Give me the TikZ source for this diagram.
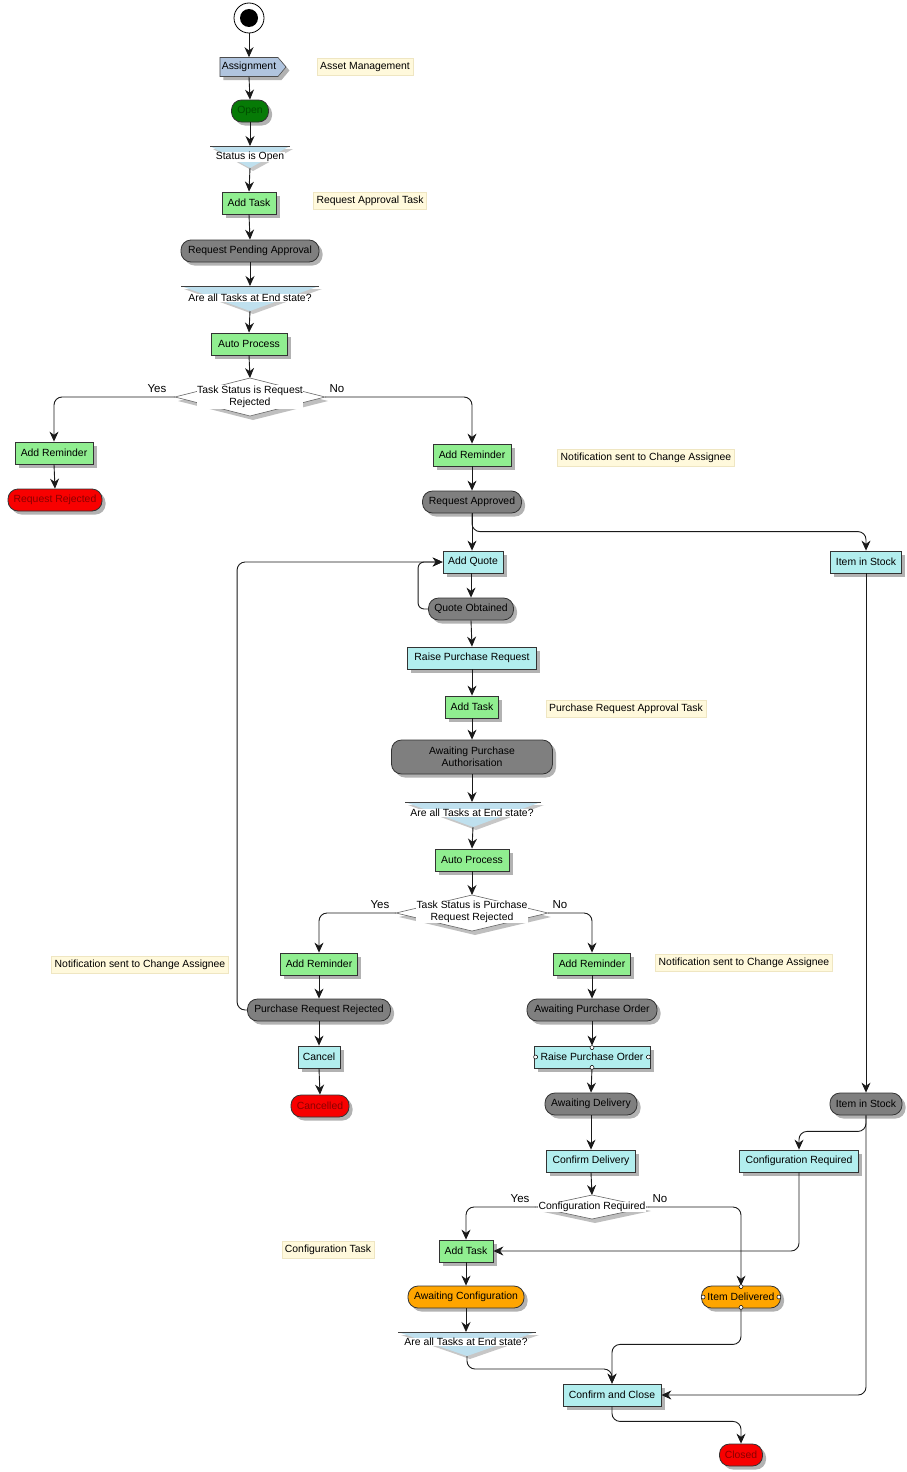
\documentclass[tikz,border=0pt]{standalone}
\usepackage{fontspec}
\setmainfont{Liberation Sans}
\usetikzlibrary{shapes.symbols,shadows,arrows.meta,calc}
\definecolor{gfill}{HTML}{90EE90}
\definecolor{cfill}{HTML}{B2EEEE}
\definecolor{pfill}{HTML}{7F7F7F}
\definecolor{rfill}{HTML}{F80000}
\definecolor{ofill}{HTML}{FFA500}
\definecolor{dgfill}{HTML}{067A06}
\definecolor{nfill}{HTML}{FFF9DC}
\definecolor{nline}{HTML}{EFE6C2}
\definecolor{ffill}{HTML}{BFE0EE}
\definecolor{afill}{HTML}{B0C4DE}
\definecolor{edgec}{HTML}{1A1A1A}
\definecolor{rtext}{HTML}{8A0000}
\tikzset{
  every node/.style={font=\fontsize{10.4}{12}\selectfont},
  base/.style={draw=black!80, line width=0.8pt, minimum height=22pt, inner sep=1pt,
    drop shadow={shadow xshift=3.5pt,shadow yshift=-3.5pt,opacity=0.3,fill=black}},
  gbox/.style={base, rectangle, fill=gfill},
  cbox/.style={base, rectangle, fill=cfill},
  pill/.style={base, rounded corners=10pt, fill=pfill},
  rpill/.style={pill, fill=rfill, text=rtext},
  opill/.style={pill, fill=ofill},
  note/.style={fill=nfill, draw=nline, line width=0.5pt, minimum height=17pt, inner xsep=3pt, inner ysep=1pt},
  conn/.style={draw=edgec, line width=0.9pt, -{Stealth[length=10pt,width=9pt]}, rounded corners=8pt},
  lbl/.style={font=\fontsize{11.5}{12}\selectfont, inner sep=0pt},
  holder/.style={inner sep=0pt, outer sep=0pt},
  ftext/.style={fill=white, inner sep=0.5pt},
  dtext/.style={fill=white, inner sep=0.5pt, align=center},
  port/.style={fill=white, draw=black, line width=0.5pt}
}
\newcommand{\funnel}[1]{%
  \fill[black,opacity=0.22] ([shift={(3,-3)}]#1.north west) -- ([shift={(3,-3)}]#1.north east) -- ([shift={(3,-3)}]#1.south) -- cycle;
  \fill[ffill] (#1.north west) -- (#1.north east) -- (#1.south) -- cycle;
  \draw[line width=0.8pt, black!75] (#1.north west) -- (#1.north east);}
\newcommand{\decision}[1]{%
  \fill[black,opacity=0.25] ([shift={(3,-4)}]#1.north) -- ([shift={(3,-4)}]#1.east) -- ([shift={(3,-4)}]#1.south) -- ([shift={(3,-4)}]#1.west) -- cycle;
  \filldraw[fill=white, draw=black!60, line width=0.6pt] (#1.north) -- (#1.east) -- (#1.south) -- (#1.west) -- cycle;}
\begin{document}
\begin{tikzpicture}[x=1pt,y=1pt]
\useasboundingbox[fill=white] (0,0) rectangle (906,-1472);

% start
\node[circle, draw=black, line width=0.8pt, minimum size=30pt, inner sep=0pt] (start) at (249,-18) {};
\fill (start.center) circle (9);

\node[signal, signal to=east, signal pointer angle=100, fill=afill, draw=black!70, line width=0.6pt,
  minimum width=66pt, minimum height=19pt, inner sep=0pt,
  drop shadow={shadow xshift=3.5pt,shadow yshift=-3.5pt,opacity=0.3,fill=black}] (assign) at (249,-67) {Assignment};
\node[note] (n1) at (365,-67) {Asset Management};
\node[pill, fill=dgfill, text=black!70!green, minimum width=37pt] (open) at (250,-111) {Open};

\node[holder, minimum width=80pt, minimum height=22pt] (f1) at (250,-157) {};
\funnel{f1}
\node[ftext] (f1t) at (250,-157) {Status is Open};

\node[gbox, minimum width=54pt] (at1) at (249,-203) {Add Task};
\node[note] (n2) at (370,-201) {Request Approval Task};
\node[pill, minimum width=138pt] (rpa) at (250,-251) {Request Pending Approval};

\node[holder, minimum width=138pt, minimum height=25pt] (f2) at (250,-298.5) {};
\funnel{f2}
\node[ftext] (f2t) at (250,-298) {Are all Tasks at End state?};

\node[gbox, minimum width=76pt] (auto1) at (249,-344) {Auto Process};

\node[holder, minimum width=150pt, minimum height=38pt] (d1) at (250,-397) {};
\decision{d1}
\node[dtext, font=\fontsize{10.4}{12.5}\selectfont] (d1t) at (250,-397) {Task Status is Request\\Rejected};
\node[lbl] (y1) at (157,-389) {Yes};
\node[lbl] (no1) at (337,-389) {No};

\node[gbox, minimum width=78pt] (ar1) at (54,-453) {Add Reminder};
\node[rpill, minimum width=94pt] (rr) at (55,-500) {Request Rejected};
\node[gbox, minimum width=78pt] (ar2) at (472,-455) {Add Reminder};
\node[note] (n3) at (646,-458) {Notification sent to Change Assignee};
\node[pill, minimum width=99pt] (rapp) at (472,-502) {Request Approved};

\node[cbox, minimum width=60pt] (aq) at (473,-562) {Add Quote};
\node[cbox, minimum width=71pt] (its1) at (866,-562) {Item in Stock};
\node[pill, minimum width=85pt] (qo) at (471,-609) {Quote Obtained};
\node[cbox, minimum width=129pt] (rpr) at (472,-658) {Raise Purchase Request};
\node[gbox, minimum width=53pt] (at2) at (472,-707) {Add Task};
\node[note] (n4) at (626,-709) {Purchase Request Approval Task};
\node[pill, minimum width=161pt, minimum height=34pt, align=center, font=\fontsize{10.4}{11.5}\selectfont] (apa) at (472,-757) {Awaiting Purchase\\Authorisation};

\node[holder, minimum width=136pt, minimum height=25pt] (f3) at (473,-814.5) {};
\funnel{f3}
\node[ftext] (f3t) at (472,-813) {Are all Tasks at End state?};

\node[gbox, minimum width=74pt] (auto2) at (472,-860) {Auto Process};

\node[holder, minimum width=152pt, minimum height=36pt] (d2) at (472,-913) {};
\decision{d2}
\node[dtext, font=\fontsize{10.4}{12}\selectfont] (d2t) at (472,-912) {Task Status is Purchase\\Request Rejected};
\node[lbl] (y2) at (380,-905) {Yes};
\node[lbl] (no2) at (560,-905) {No};

\node[gbox, minimum width=77pt] (ar3) at (319,-964) {Add Reminder};
\node[note] (n5) at (140,-965) {Notification sent to Change Assignee};
\node[pill, minimum width=143pt] (prr) at (319,-1010) {Purchase Request Rejected};
\node[cbox, minimum width=42pt] (cancel) at (319,-1057) {Cancel};
\node[rpill, minimum width=58pt] (cld) at (320,-1106) {Cancelled};

\node[gbox, minimum width=77pt] (ar4) at (592,-964) {Add Reminder};
\node[note] (n6) at (744,-963) {Notification sent to Change Assignee};
\node[pill, minimum width=130pt] (apo) at (592,-1010) {Awaiting Purchase Order};
\node[cbox, minimum width=116pt] (rpo) at (592,-1057) {Raise Purchase Order};
\node[pill, minimum width=92pt] (ad) at (591,-1104) {Awaiting Delivery};
\node[pill, minimum width=72pt] (its2) at (866,-1104) {Item in Stock};
\node[cbox, minimum width=89pt] (cd) at (591,-1161) {Confirm Delivery};
\node[cbox, minimum width=119pt] (cr) at (799,-1161) {Configuration Required};

\node[holder, minimum width=112pt, minimum height=24pt] (d3) at (592,-1207) {};
\decision{d3}
\node[dtext] (d3t) at (592,-1207) {Configuration Required};
\node[lbl] (y3) at (520,-1199) {Yes};
\node[lbl] (no3) at (660,-1199) {No};

\node[gbox, minimum width=54pt] (at3) at (466,-1251) {Add Task};
\node[note] (n7) at (328,-1250) {Configuration Task};
\node[opill, minimum width=116pt] (ac) at (466,-1297) {Awaiting Configuration};

\node[holder, minimum width=138pt, minimum height=24pt] (f4) at (467,-1344) {};
\funnel{f4}
\node[ftext] (f4t) at (466,-1342) {Are all Tasks at End state?};

\node[opill, minimum width=79pt] (id) at (741,-1297) {Item Delivered};
\node[cbox, minimum width=98pt] (cc) at (612,-1395) {Confirm and Close};
\node[rpill, minimum width=43pt] (closed) at (741,-1455) {Closed};

% connectors
\draw[conn] (start.south) -- (assign.north);
\draw[conn] (assign.south) -- (open.north);
\draw[conn] (open.south) -- (f1.north);
\draw[conn] (f1.south) -- (at1.north);
\draw[conn] (at1.south) -- (rpa.north);
\draw[conn] (rpa.south) -- (f2.north);
\draw[conn] (f2.south) -- (auto1.north);
\draw[conn] (auto1.south) -- (d1.north);
\draw[conn] (d1.west) -| (ar1.north);
\draw[conn] (d1.east) -| (ar2.north);
\draw[conn] (ar1.south) -- (rr.north);
\draw[conn] (ar2.south) -- (rapp.north);
\draw[conn] (rapp.south) -- (rapp.south |- aq.north);
\draw[conn] (rapp.south) |- ([yshift=19pt]its1.north) -- (its1.north);
\draw[conn] (aq.south -| qo.north) -- (qo.north);
\draw[conn, rounded corners=6pt] (qo.west) -- ++(-10,0) |- (aq.west);
\draw[conn] (qo.south) -- (rpr.north);
\draw[conn] (rpr.south) -- (at2.north);
\draw[conn] (at2.south) -- (apa.north);
\draw[conn] (apa.south) -- (f3.north -| apa.south);
\draw[conn] (f3.south) -- (auto2.north);
\draw[conn] (auto2.south) -- (d2.north);
\draw[conn] (d2.west) -| (ar3.north);
\draw[conn] (d2.east) -| (ar4.north);
\draw[conn] (ar3.south) -- (prr.north);
\draw[conn] (prr.west) -- ++(-10,0) |- (aq.west);
\draw[conn] (prr.south) -- (cancel.north);
\draw[conn] (cancel.south) -- (cld.north);
\draw[conn] (ar4.south) -- (apo.north);
\draw[conn] (apo.south) -- (rpo.north);
\draw[conn] (rpo.south) -- (ad.north);
\draw[conn] (ad.south) -- (cd.north);
\draw[conn] (cd.south) -- (d3.north);
\draw[conn] (its1.south) -- (its2.north);
\draw[conn] (its2.south) -- ++(0,-16) -| (cr.north);
\draw[conn] (its2.south) |- (cc.east);
\draw[conn] (d3.west) -| (at3.north);
\draw[conn] (d3.east) -| (id.north);
\draw[conn] (cr.south) |- (at3.east);
\draw[conn] (at3.south) -- (ac.north);
\draw[conn] (ac.south) -- (f4.north -| ac.south);
\draw[conn] (f4.south) -- ++(0,-13) -| (cc.north);
\draw[conn] (id.south) -- ++(0,-36) -| (cc.north);
\draw[conn] (cc.south) -- ++(0,-15) -| (closed.north);

% ports
\draw[port] ([yshift=-2pt]rpo.north) circle (2);
\draw[port] ([yshift=1pt]rpo.south) circle (2);
\draw[port] ([xshift=2pt]rpo.west) circle (2);
\draw[port] ([xshift=-2pt]rpo.east) circle (2);
\draw[port] ([yshift=-1pt]id.north) circle (2);
\draw[port] ([yshift=1pt]id.south) circle (2);
\draw[port] ([xshift=2pt]id.west) circle (2);
\draw[port] ([xshift=-2pt]id.east) circle (2);
\end{tikzpicture}
\end{document}
